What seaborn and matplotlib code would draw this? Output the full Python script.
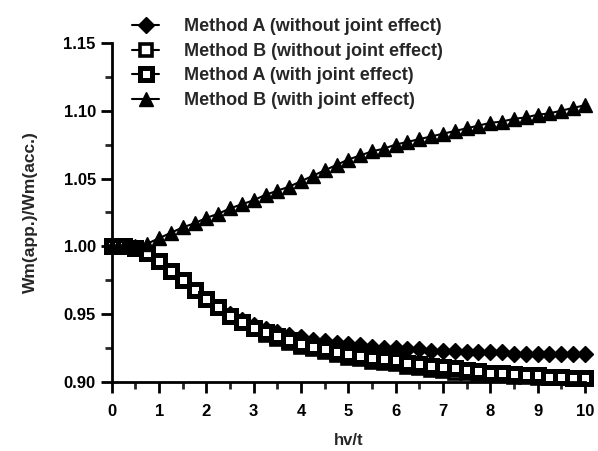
import numpy as np
import pandas as pd
import matplotlib
matplotlib.use("Agg")
import matplotlib.pyplot as plt
import seaborn as sns

x = [0, 0.25, 0.5, 0.75, 1.0, 1.25, 1.5, 1.75, 2.0, 2.25, 2.5, 2.75, 3.0, 3.25, 3.5, 3.75,
     4.0, 4.25, 4.5, 4.75, 5.0, 5.25, 5.5, 5.75, 6.0, 6.25, 6.5, 6.75, 7.0, 7.25, 7.5, 7.75,
     8.0, 8.25, 8.5, 8.75, 9.0, 9.25, 9.5, 9.75, 10.0]

a_without = [1.000, 1.000, 0.999, 0.996, 0.989, 0.982, 0.975, 0.968, 0.961, 0.955, 0.950, 0.946,
             0.942, 0.939, 0.937, 0.935, 0.933, 0.931, 0.930, 0.929, 0.928, 0.927, 0.926, 0.925,
             0.925, 0.924, 0.924, 0.923, 0.923, 0.923, 0.922, 0.922, 0.922, 0.922, 0.921, 0.921,
             0.921, 0.921, 0.921, 0.921, 0.921]

b_without = [1.000, 1.000, 0.999, 0.995, 0.989, 0.982, 0.975, 0.968, 0.961, 0.955, 0.949, 0.944,
             0.939, 0.935, 0.932, 0.929, 0.926, 0.924, 0.922, 0.920, 0.918, 0.917, 0.915, 0.914,
             0.913, 0.911, 0.910, 0.909, 0.908, 0.907, 0.907, 0.906, 0.905, 0.905, 0.904, 0.904,
             0.903, 0.903, 0.903, 0.902, 0.902]

a_with = [1.000, 1.000, 0.999, 0.995, 0.989, 0.982, 0.975, 0.968, 0.961, 0.955, 0.949, 0.944,
          0.940, 0.937, 0.934, 0.931, 0.928, 0.926, 0.924, 0.922, 0.921, 0.919, 0.918, 0.917,
          0.916, 0.914, 0.913, 0.912, 0.911, 0.910, 0.909, 0.908, 0.907, 0.907, 0.906, 0.905,
          0.905, 0.904, 0.904, 0.903, 0.903]

b_with = [1.000, 1.000, 1.000, 1.002, 1.006, 1.010, 1.014, 1.017, 1.021, 1.024, 1.028, 1.031,
          1.034, 1.038, 1.041, 1.044, 1.048, 1.052, 1.056, 1.060, 1.064, 1.067, 1.070, 1.072,
          1.075, 1.077, 1.079, 1.081, 1.083, 1.085, 1.087, 1.089, 1.091, 1.092, 1.094, 1.095,
          1.097, 1.098, 1.100, 1.102, 1.104]

labels = ["Method A (without joint effect)", "Method B (without joint effect)",
          "Method A (with joint effect)", "Method B (with joint effect)"]

sns.set_style("ticks")
plt.rcParams["font.family"] = ["Liberation Sans", "DejaVu Sans"]

fig = plt.figure(figsize=(5.98, 4.51), dpi=100)
ax = fig.add_axes([0.187, 0.153, 0.791, 0.752])

series = [a_without, b_without, a_with, b_with]
styles = [
    dict(marker="D", markersize=8.5, markerfacecolor="black", markeredgecolor="black", markeredgewidth=1),
    dict(marker="s", markersize=8.5, markerfacecolor="white", markeredgecolor="black", markeredgewidth=2.6),
    dict(marker="s", markersize=9, markerfacecolor="white", markeredgecolor="black", markeredgewidth=3.6),
    dict(marker="^", markersize=10.5, markerfacecolor="black", markeredgecolor="black", markeredgewidth=1),
]
for vals, lab, st in zip(series, labels, styles):
    df = pd.DataFrame({"x": x, "y": vals})
    sns.lineplot(data=df, x="x", y="y", ax=ax, color="black", linewidth=1.5,
                 label=lab, clip_on=False, **st)

ax.set_xlim(0, 10)
ax.set_ylim(0.90, 1.15)
ax.set_xticks(np.arange(0, 11, 1))
ax.set_xticks(np.arange(0.5, 10, 1), minor=True)
ax.set_yticks([0.90, 0.95, 1.00, 1.05, 1.10, 1.15])
ax.set_yticks([0.925, 0.975, 1.025, 1.075, 1.125], minor=True)
ax.set_yticklabels(["0.90", "0.95", "1.00", "1.05", "1.10", "1.15"])
ax.tick_params(axis="both", which="major", direction="out", length=8, width=2,
               labelsize=12, colors="black")
ax.tick_params(axis="x", which="major", pad=8)
ax.tick_params(axis="both", which="minor", direction="out", length=5, width=2)
for lab in ax.get_xticklabels() + ax.get_yticklabels():
    lab.set_fontweight("bold")
sns.despine(ax=ax)
for sp in ["left", "bottom"]:
    ax.spines[sp].set_linewidth(2)
    ax.spines[sp].set_color("black")

ax.set_xlabel("hv/t", fontsize=12, fontweight="bold", labelpad=10)
ax.set_ylabel("Wm(app.)/Wm(acc.)", fontsize=12.5, fontweight="bold", labelpad=18)

leg = ax.legend(loc="upper left", bbox_to_anchor=(116 / 598, 1 - 2 / 451),
                bbox_transform=fig.transFigure, frameon=False, fontsize=13,
                handlelength=1.5, handletextpad=1.35, labelspacing=0.42)
for t in leg.get_texts():
    t.set_fontweight("bold")

fig.savefig("out.png", dpi=100)
